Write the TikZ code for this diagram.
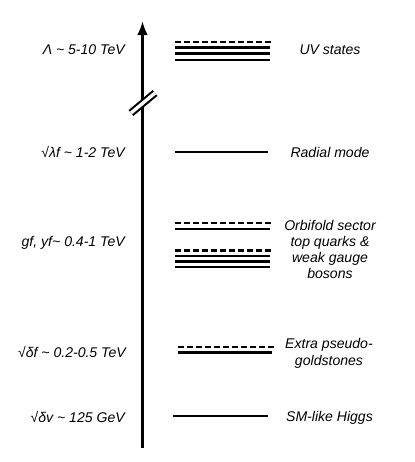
\documentclass[tikz,border=0pt]{standalone}
\usepackage{fontspec}
\setmainfont{Liberation Sans}
\usetikzlibrary{arrows.meta}

\newcommand{\tld}{\textasciitilde}

\begin{document}
\begin{tikzpicture}[x=0.025cm,y=-0.025cm,
    level/.style={line width=1.8pt},
    virt/.style={line width=1.8pt,dash pattern=on 4.6pt off 1.8pt},
    energy/.style={font=\fontsize{10}{11.6}\selectfont\itshape,anchor=base east,inner sep=0pt},
    particle/.style={font=\fontsize{10}{11.6}\selectfont\itshape,align=center,inner sep=0pt}]
      \useasboundingbox (0,0) rectangle (415,462);
      \coordinate (bot) at (142.5,448);
      \coordinate (top) at (142.5,21);
      \draw [line width=1.8pt,-{Latex[length=10pt,width=7.6pt]}] (bot) -- (top);
      \coordinate (cuta) at (131,113);
      \coordinate (cutb) at (155,93);
      \draw [line width=1.5pt,double=white,double distance=2.4pt] (cuta) -- (cutb);
      % UV states
      \draw [virt] (175,42) -- (273,42);
      \foreach \y in {47.5,53.5,60}
        \draw [level] (175,\y) -- (270,\y);
      % radial mode
      \draw [level] (175,152) -- (268,152);
      % orbifold sector
      \draw [virt] (175,223) -- (273,223);
      \draw [level] (175,229) -- (270,229);
      \draw [virt] (175,250.5) -- (273,250.5);
      \foreach \y in {256,261.5,267}
        \draw [level] (175,\y) -- (270,\y);
      % pseudo-goldstones
      \draw [virt] (178,347) -- (275,347);
      \draw [level] (178,352.5) -- (272,352.5);
      % higgs
      \draw [level] (173,416) -- (268,416);
      \node [energy] (luv) at (125,54) {Λ \tld{} 5-10 TeV};
      \node [energy] (lrad) at (125,157) {√λf \tld{} 1-2 TeV};
      \node [energy] (lorb) at (125,246) {gf, yf\tld{} 0.4-1 TeV};
      \node [energy] (lpng) at (126,357) {√δf \tld{} 0.2-0.5 TeV};
      \node [energy] (lhig) at (125,422) {√δv \tld{} 125 GeV};
      \node [particle,anchor=base] (uv) at (330,54) {UV states};
      \node [particle,anchor=base] (rad) at (330,157) {Radial mode};
      \node [particle] (orb) at (330,249.5) {Orbifold sector\\top quarks \&\\weak gauge\\bosons};
      \node [particle] (png) at (329,353.5) {Extra pseudo-\\goldstones};
      \node [particle,anchor=base] (hig) at (329.5,421) {SM-like Higgs};
    \end{tikzpicture}
\end{document}
